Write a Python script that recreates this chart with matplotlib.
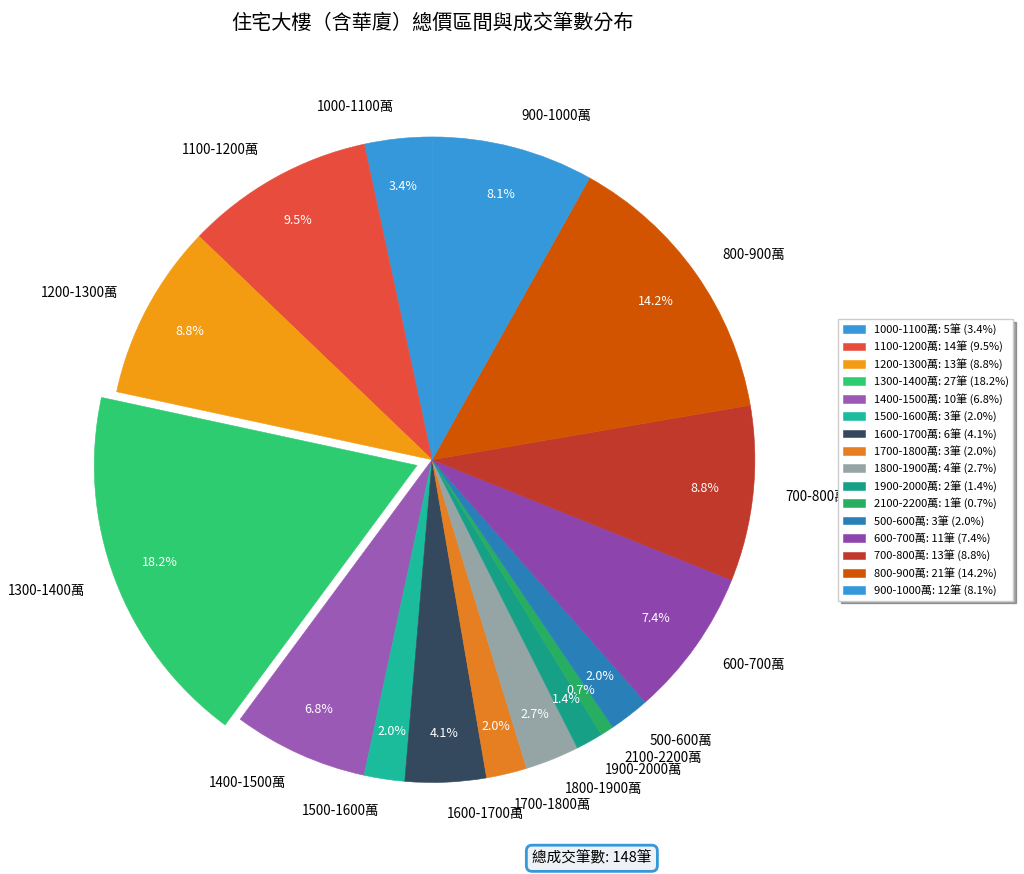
import matplotlib.pyplot as plt

plt.rcParams['font.family'] = ['Noto Sans CJK TC', 'DejaVu Sans']

ranges = ['1000-1100萬', '1100-1200萬', '1200-1300萬', '1300-1400萬', '1400-1500萬',
          '1500-1600萬', '1600-1700萬', '1700-1800萬', '1800-1900萬', '1900-2000萬',
          '2100-2200萬', '500-600萬', '600-700萬', '700-800萬', '800-900萬', '900-1000萬']
counts = [5, 14, 13, 27, 10, 3, 6, 3, 4, 2, 1, 3, 11, 13, 21, 12]
palette = ['#3498db', '#e74c3c', '#f39c12', '#2ecc71', '#9b59b6', '#1abc9c', '#34495e',
           '#e67e22', '#95a5a6', '#16a085', '#27ae60', '#2980b9', '#8e44ad', '#c0392b', '#d35400']

total = sum(counts)
colors = [palette[i % len(palette)] for i in range(len(counts))]
explode = [0.05 if c == max(counts) else 0 for c in counts]

fig = plt.figure(figsize=(10.24, 8.74), dpi=100)
ax = fig.add_axes([0.028, 0.012, 0.788, 0.924])

wedges, texts, autotexts = ax.pie(counts, labels=ranges, colors=colors, explode=explode,
                                  autopct='%1.1f%%', startangle=90, pctdistance=0.85,
                                  labeldistance=1.1, textprops={'fontsize': 9.7})
for w in wedges:
    # hide the seam between the two same-coloured wedges
    w.set_edgecolor(w.get_facecolor())
    w.set_linewidth(0.4)
for t in autotexts:
    t.set_color('white')
    t.set_fontsize(9)
ax.set_aspect('equal')

fig.suptitle('住宅大樓（含華廈）總價區間與成交筆數分布', x=0.422, y=0.985, fontsize=14.5)

leg_labels = [f'{r}: {c}筆 ({c / total * 100:.1f}%)' for r, c in zip(ranges, counts)]
fig.legend(wedges, leg_labels, loc='center left', bbox_to_anchor=(0.813, 0.474),
           fontsize=8, shadow=True, fancybox=False, framealpha=1)

fig.text(0.578, 0.018, f'總成交筆數: {total}筆', ha='center', va='center', fontsize=10.5,
         bbox=dict(boxstyle='round,pad=0.4', facecolor='#eef2f6', edgecolor='#3498db', linewidth=2))

fig.savefig('out.png', dpi=100)
